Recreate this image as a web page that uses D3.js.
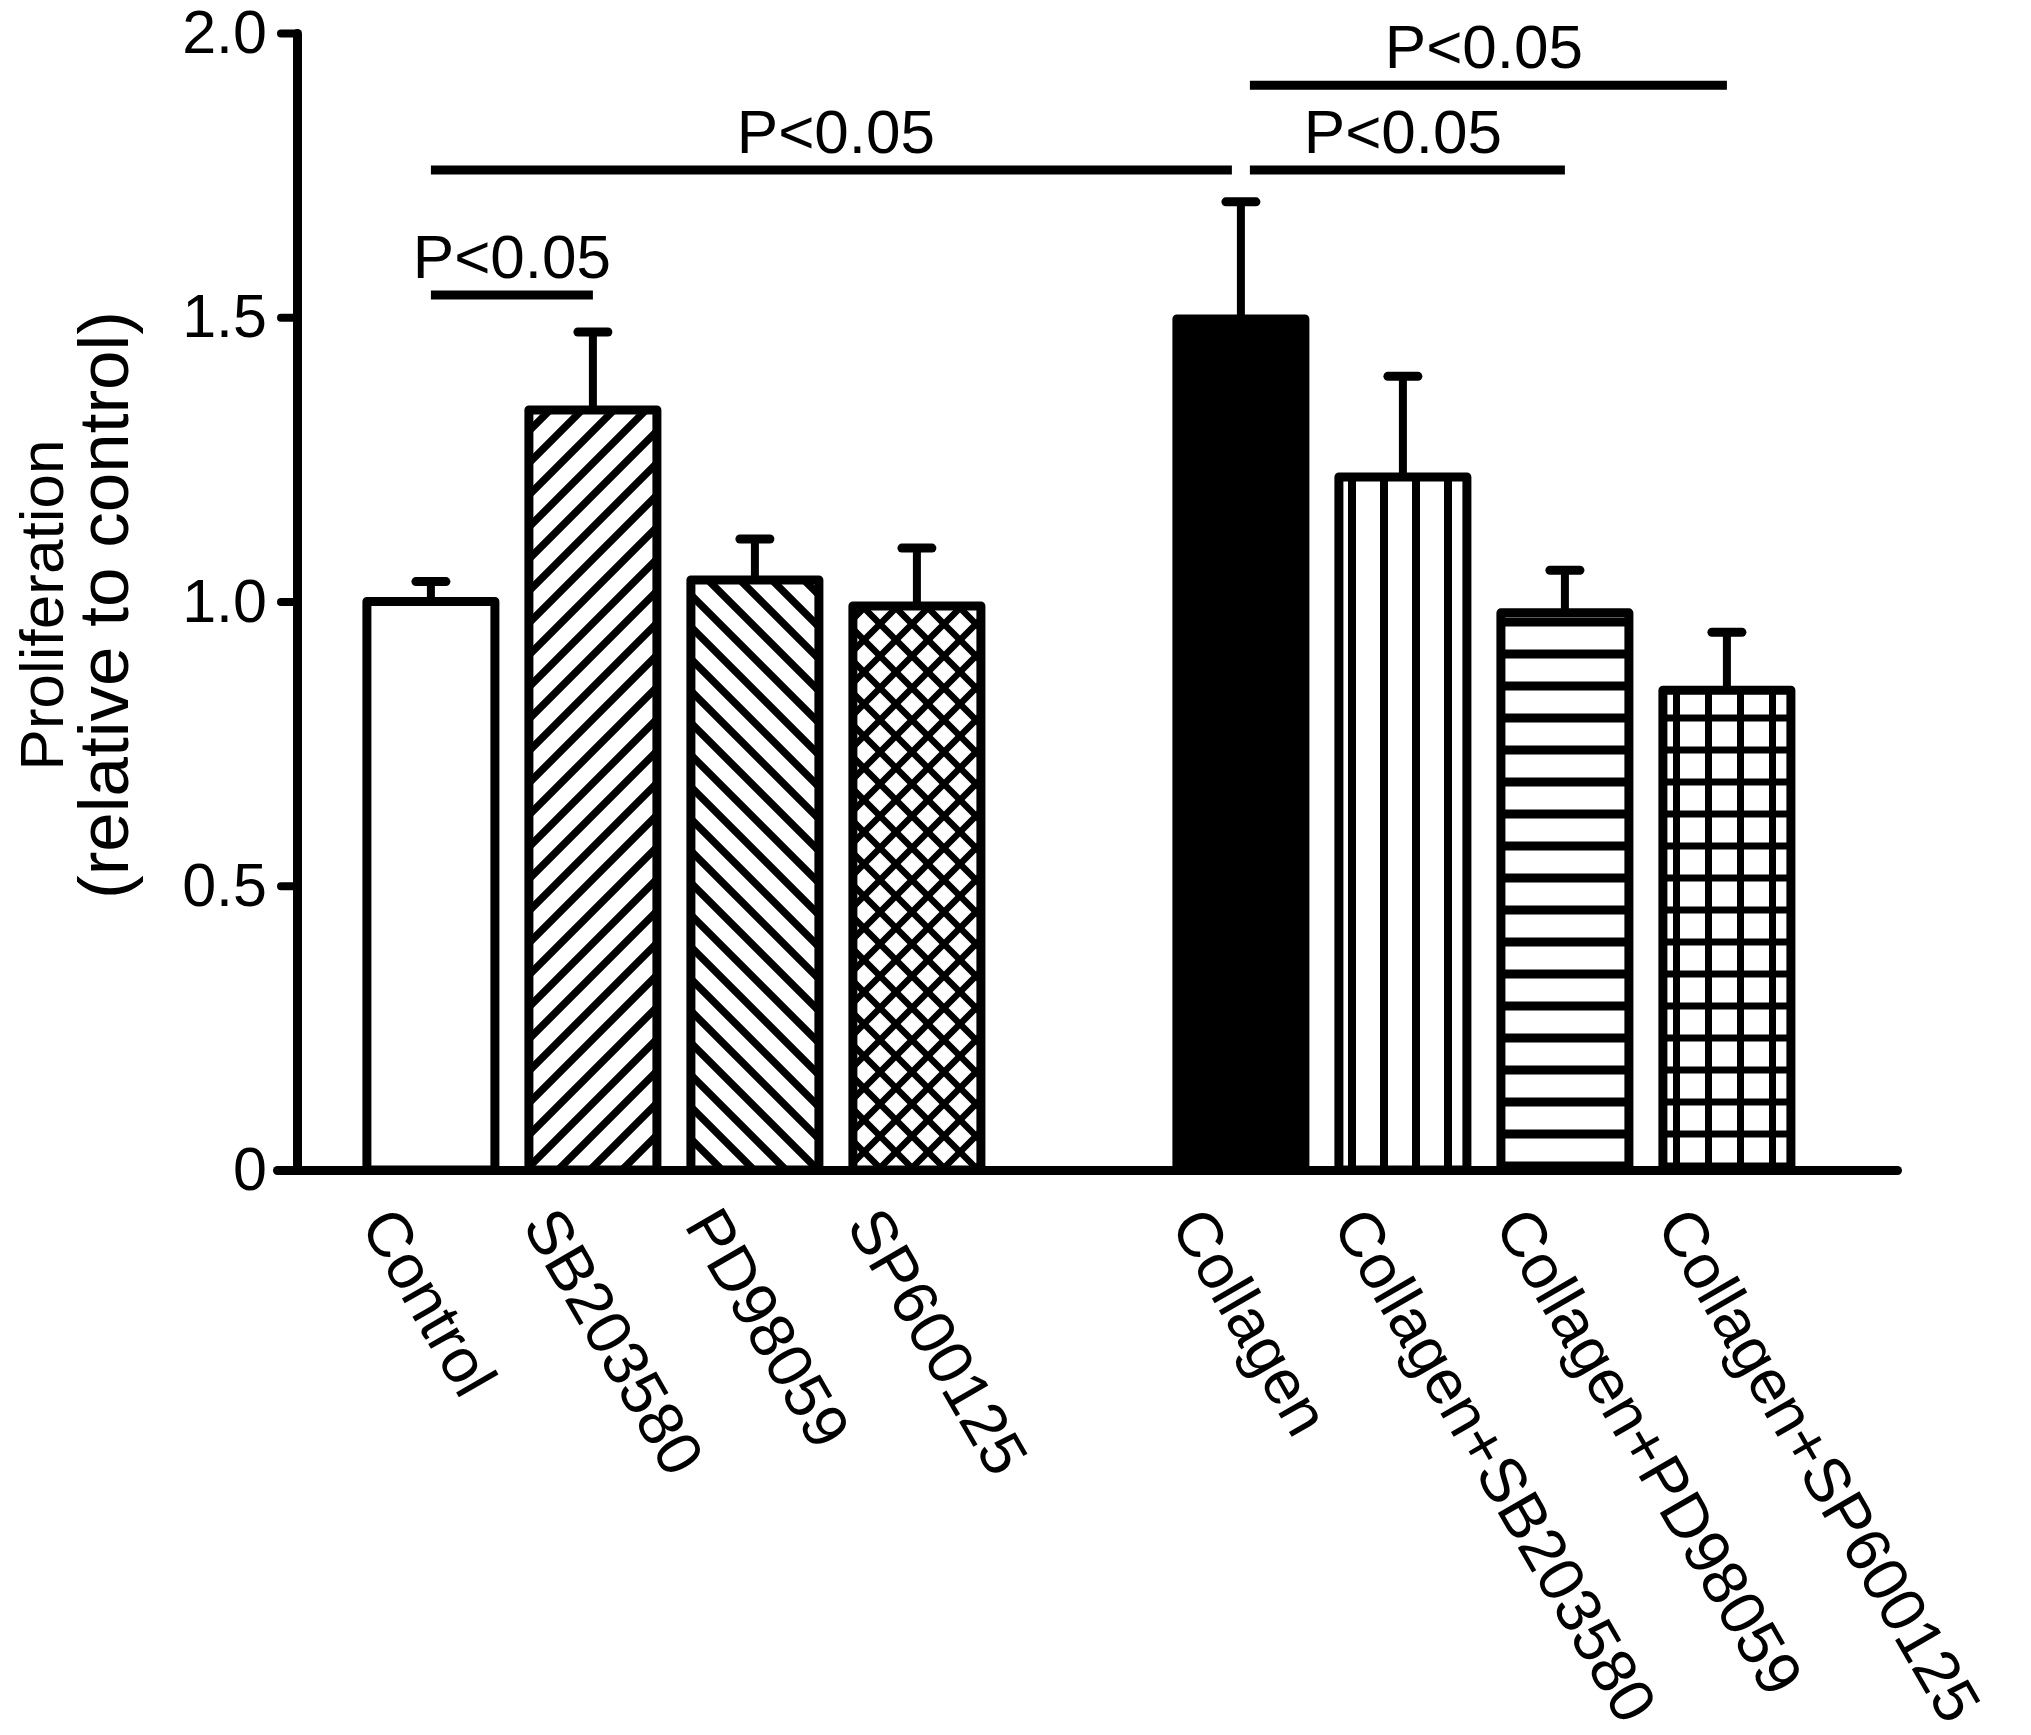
<!DOCTYPE html>
<html>
<head>
<meta charset="utf-8">
<script src="https://cdn.jsdelivr.net/npm/d3@7"></script>
<style>
  body { margin: 0; background: #fff; }
  text { font-family: "Liberation Sans", Arial, sans-serif; fill: #000; }
</style>
</head>
<body>
<svg id="chart" width="2031" height="1735"></svg>
<script>
// groups and their slot on the x axis (slot 4 is the empty gap between the two groups)
const categories = ["Control", "SB203580", "PD98059", "SP600125",
  "Collagen", "Collagen+SB203580", "Collagen+PD98059", "Collagen+SP600125"];
const slots = [0, 1, 2, 3, 5, 6, 7, 8];
const means = [1.0, 1.337, 1.038, 0.992, 1.497, 1.219, 0.98, 0.844];
const sem = [0.035, 0.137, 0.072, 0.102, 0.206, 0.177, 0.075, 0.102];

const yTicks = [0, 0.5, 1.0, 1.5, 2.0];

// significance brackets (category indices)
const sigFrom = [0, 0, 4, 4];
const sigTo = [1, 4, 6, 7];
const sigLevel = [1.539, 1.759, 1.759, 1.908];
const sigLabel = ["P<0.05", "P<0.05", "P<0.05", "P<0.05"];

const svg = d3.select("#chart");

const x = d3.scaleLinear().domain([-0.95, 9.05]).range([277, 1897]);
const y = d3.scaleLinear().domain([0, 2]).range([1170, 33]);
const axisX = 297;
const barW = 128;

// fill patterns
const defs = svg.append("defs");
function pattern(id, paths, sw) {
  const p = defs.append("pattern").attr("id", id)
    .attr("patternUnits", "userSpaceOnUse").attr("width", 32).attr("height", 32);
  p.append("rect").attr("width", 32).attr("height", 32).attr("fill", "#fff");
  p.append("path").attr("d", paths).attr("stroke", "#000").attr("stroke-width", sw).attr("fill", "none");
}
pattern("up", "M-8,8L8,-8M0,32L32,0M24,40L40,24", 7.5);
pattern("down", "M-8,24L8,40M0,0L32,32M24,-8L40,8", 7.5);
pattern("cross", "M-8,8L8,-8M0,32L32,0M24,40L40,24M-8,24L8,40M0,0L32,32M24,-8L40,8", 6.5);
pattern("vert", "M8,-2V34", 8);
pattern("horiz", "M-2,14H34", 9);
pattern("grid", "M12.5,-2V34M-2,14H34", 7);
const fills = {
  "Control": "#fff", "SB203580": "url(#up)", "PD98059": "url(#down)", "SP600125": "url(#cross)",
  "Collagen": "#000", "Collagen+SB203580": "url(#vert)", "Collagen+PD98059": "url(#horiz)",
  "Collagen+SP600125": "url(#grid)"
};

const rows = categories.map((c, i) => ({ name: c, slot: slots[i], mean: means[i], sem: sem[i] }));

// error bars (upper only)
const eb = svg.append("g").selectAll("g").data(rows).join("g");
eb.append("line")
  .attr("x1", d => x(d.slot)).attr("x2", d => x(d.slot))
  .attr("y1", d => y(d.mean)).attr("y2", d => y(d.mean + d.sem))
  .attr("stroke", "#000").attr("stroke-width", 8);
eb.append("line")
  .attr("x1", d => x(d.slot) - 15).attr("x2", d => x(d.slot) + 15)
  .attr("y1", d => y(d.mean + d.sem)).attr("y2", d => y(d.mean + d.sem))
  .attr("stroke", "#000").attr("stroke-width", 9).attr("stroke-linecap", "round");

// bars
svg.append("g").selectAll("rect").data(rows).join("rect")
  .attr("x", d => x(d.slot) - barW / 2)
  .attr("width", barW)
  .attr("y", d => y(d.mean))
  .attr("height", d => y(0) - y(d.mean))
  .attr("fill", d => fills[d.name])
  .attr("stroke", "#000").attr("stroke-width", 9).attr("stroke-linejoin", "round");

// y axis
const gy = svg.append("g").attr("transform", `translate(${axisX},0)`)
  .call(d3.axisLeft(y).tickValues(yTicks).tickSize(16).tickPadding(14).tickSizeOuter(0)
    .tickFormat(d => d === 0 ? "0" : d3.format(".1f")(d)));
gy.select(".domain").attr("stroke-width", 9).attr("stroke-linecap", "round");
gy.selectAll(".tick line").attr("stroke-width", 8).attr("stroke-linecap", "round");
gy.selectAll(".tick text").style("font-size", "61px").style("font-family", "Liberation Sans, Arial, sans-serif");

// x axis with rotated labels
const gx = svg.append("g").attr("transform", `translate(0,${y(0)})`)
  .call(d3.axisBottom(x).tickValues(slots).tickSize(0).tickSizeOuter(0)
    .tickFormat((d, i) => categories[i]));
gx.select(".domain").attr("stroke-width", 9).attr("stroke-linecap", "round");
gx.selectAll(".tick text")
  .attr("x", 0).attr("y", 0).attr("dy", null)
  .attr("text-anchor", "start")
  .attr("transform", "translate(-72,55) rotate(60)")
  .style("font-size", "63px").style("font-family", "Liberation Sans, Arial, sans-serif");

// y title
const title = svg.append("g").attr("transform", "translate(0,605) rotate(-90)");
title.append("text").attr("x", 0).attr("y", 63).attr("text-anchor", "middle")
  .style("font-size", "62px").text("Proliferation");
title.append("text").attr("x", 0).attr("y", 128).attr("text-anchor", "middle")
  .style("font-size", "71px").text("(relative to control)");

// significance brackets
const shared = new Set(sigTo.filter(t => sigFrom.includes(t)));
const gap = 9;
const sig = svg.append("g").selectAll("g").data(sigFrom.map((f, i) => ({
  from: f, to: sigTo[i], level: sigLevel[i], label: sigLabel[i]
}))).join("g");
sig.append("line")
  .attr("x1", d => x(slots[d.from]) + (shared.has(d.from) ? gap : 0))
  .attr("x2", d => x(slots[d.to]) - (shared.has(d.to) ? gap : 0))
  .attr("y1", d => y(d.level)).attr("y2", d => y(d.level))
  .attr("stroke", "#000").attr("stroke-width", 9);
sig.append("text")
  .attr("x", d => (x(slots[d.from]) + x(slots[d.to])) / 2)
  .attr("y", d => y(d.level) - 17)
  .attr("text-anchor", "middle")
  .style("font-size", "62px")
  .text(d => d.label);
</script>
</body>
</html>
